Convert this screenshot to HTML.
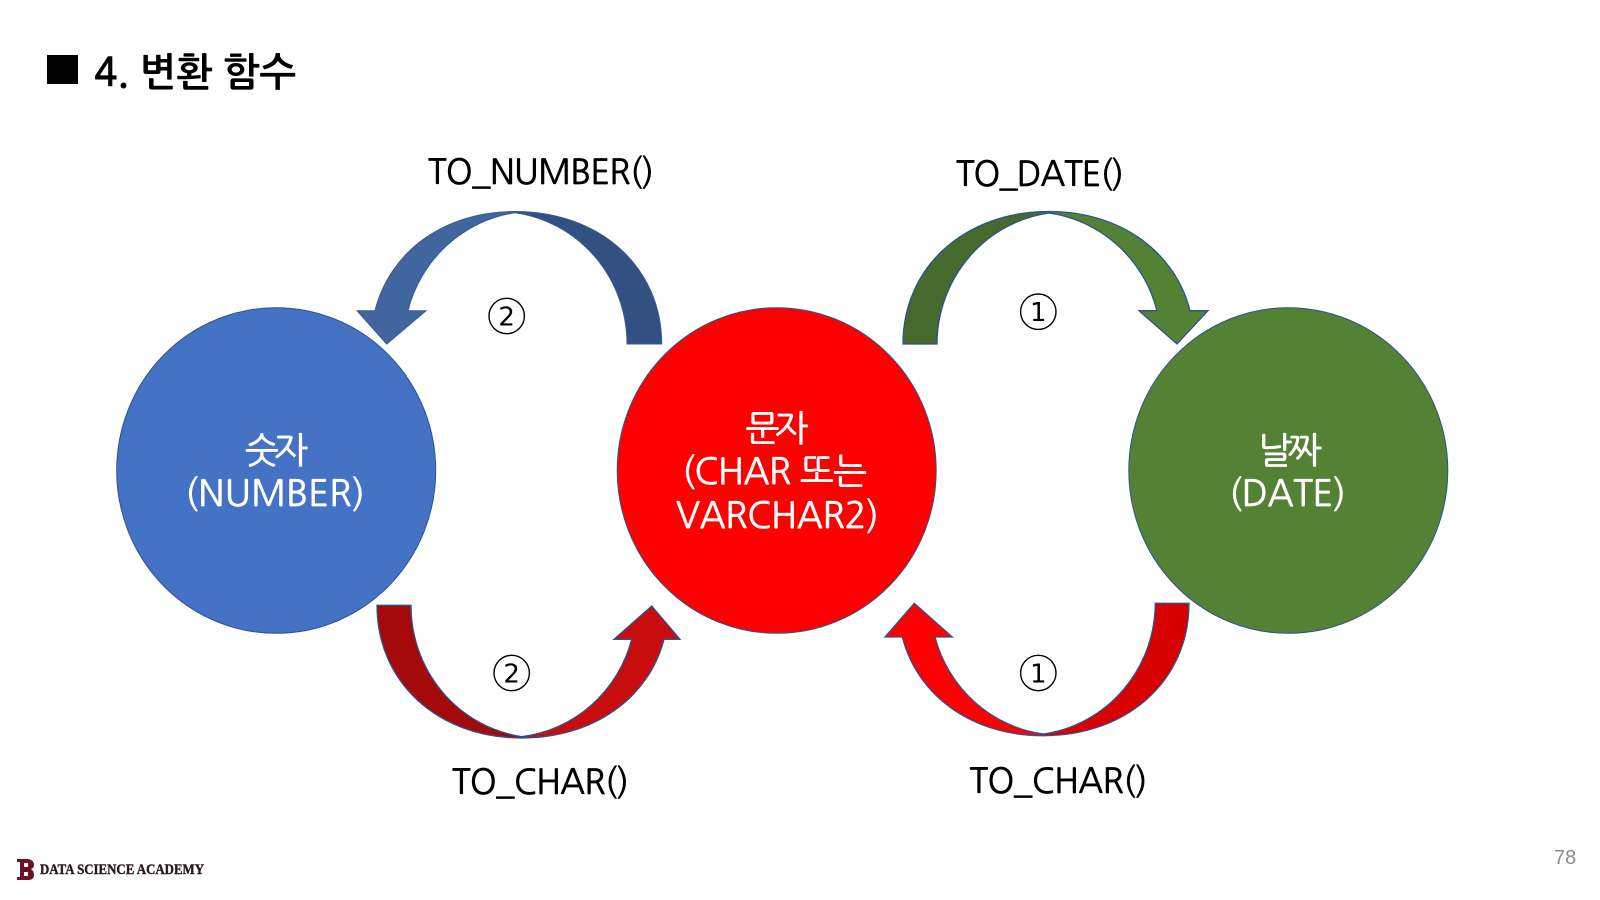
<!DOCTYPE html>
<html lang="ko">
<head>
<meta charset="utf-8">
<style>
html,body{margin:0;padding:0;background:#fff;width:1600px;height:900px;overflow:hidden}
svg{display:block}
.k{font-family:"NanumGothic","Liberation Sans","Noto Sans CJK KR",sans-serif}
.w{fill:#fff;stroke:#fff;stroke-width:.7;font-size:36px}
.l{fill:#000;stroke:#000;stroke-width:.7;font-size:34px}
.c{fill:#000;font-size:26px;text-anchor:middle;font-family:"DejaVu Sans",sans-serif}
.r{fill:none;stroke:#000;stroke-width:1.4}
</style>
</head>
<body>
<svg width="1600" height="900" viewBox="0 0 1600 900" xmlns="http://www.w3.org/2000/svg">
<rect width="1600" height="900" fill="#fff"/>

<!-- title -->
<rect x="47" y="55" width="31" height="29" fill="#000"/>
<text class="k" x="94" y="86" font-size="39" font-weight="700" fill="#000" textLength="202">4. 변환 함수</text>

<!-- circles -->
<ellipse cx="276.2" cy="470.5" rx="159.5" ry="162.8" fill="#4472c4" stroke="#2f528f" stroke-width="1"/>
<ellipse cx="776.7" cy="470.5" rx="159.5" ry="162.8" fill="#ff0000" stroke="#2f528f" stroke-width="1"/>
<ellipse cx="1288.3" cy="470.5" rx="159.5" ry="162.8" fill="#548235" stroke="#2f528f" stroke-width="1"/>

<!-- top-left arrow: TO_NUMBER -->
<path d="M627,344 A130,132.6 0 0 0 515,212.7 L515,211.5 C600.1,211.5 661.7,267.1 661.7,344 Z" fill="#325082" stroke="#3a5a8f" stroke-width="1"/>
<path d="M515,212.7 A130,132.6 0 0 0 408,310.7 L426,310.7 L386.7,344 L357,310.7 L375,310.7 C389.8,251.6 444,211.5 515,211.5 Z" fill="#41659f" stroke="#3a5a8f" stroke-width="1"/>

<!-- top-right arrow: TO_DATE -->
<path d="M937,344 A130,132.6 0 0 1 1049,213 L1049,211.5 C964.3,211.5 903,267.4 903,344 Z" fill="#46692e" stroke="#2f528f" stroke-width="1.3"/>
<path d="M1049,213 A130,132.6 0 0 1 1157,310.7 L1139,310.7 L1177,344 L1208,310.7 L1190,310.7 C1175,251.6 1120.5,211.5 1049,211.5 Z" fill="#548235" stroke="#2f528f" stroke-width="1.3"/>

<!-- bottom-left arrow: TO_CHAR -->
<path d="M377,605.3 L411,605.3 A130,132.6 0 0 0 521.7,736.7 L521.7,738 C437.8,738 377,682.3 377,605.3 Z" fill="#a50a0a" stroke="#2f528f" stroke-width="1.3"/>
<path d="M521.7,736.7 A130,132.6 0 0 0 631.7,639.3 L614,639.3 L651.7,606 L680,639.3 L664,639.3 C648.9,697.8 593.8,738 521.7,738 Z" fill="#c90d0d" stroke="#2f528f" stroke-width="1.3"/>

<!-- bottom-right arrow: TO_CHAR -->
<path d="M1189,603.3 L1155.3,603.3 A130,132.6 0 0 1 1043.3,734 L1043.3,735.7 C1127.8,735.7 1189,680.1 1189,603.3 Z" fill="#d90000" stroke="#2f528f" stroke-width="1.3"/>
<path d="M1043.3,734 A130,132.6 0 0 1 935,637 L952.3,637 L914.3,603.3 L885,637 L902.3,637 C917.3,695.5 971.8,735.7 1043.3,735.7 Z" fill="#ff0000" stroke="#2f528f" stroke-width="1.3"/>

<!-- circle labels -->
<text class="k w" x="245" y="463" textLength="63">숫자</text>
<text class="k w" x="185" y="506" textLength="180">(NUMBER)</text>
<text class="k w" x="745.5" y="441" textLength="63">문자</text>
<text class="k w" x="682" y="484" textLength="185">(CHAR 또는</text>
<text class="k w" x="676" y="528" textLength="203">VARCHAR2)</text>
<text class="k w" x="1258" y="463" textLength="64">날짜</text>
<text class="k w" x="1229" y="506" textLength="117">(DATE)</text>

<!-- function labels -->
<text class="k l" x="428" y="184" textLength="226">TO_NUMBER()</text>
<text class="k l" x="956" y="186" textLength="168">TO_DATE()</text>
<text class="k l" x="452" y="794" textLength="177">TO_CHAR()</text>
<text class="k l" x="969.5" y="793" textLength="178">TO_CHAR()</text>

<!-- circled numbers -->
<circle class="r" cx="506.7" cy="316" r="17.7"/>
<text class="c" x="506.7" y="325.5">2</text>
<circle class="r" cx="1038.3" cy="311.7" r="17.7"/>
<text class="c" x="1038.3" y="321.2">1</text>
<circle class="r" cx="511.7" cy="673" r="17.7"/>
<text class="c" x="511.7" y="682.5">2</text>
<circle class="r" cx="1038.3" cy="673" r="17.7"/>
<text class="c" x="1038.3" y="682.5">1</text>

<!-- footer logo -->
<path d="M17,859 H28 Q34,860 34,865 Q34,868 31,869 Q34,871 34,875 Q34,880 28,880 H17 V877 H20 V862 H17 Z" fill="#6b1226"/>
<rect x="24" y="863" width="4" height="4" fill="#fff"/>
<rect x="24" y="872" width="4" height="4" fill="#fff"/>
<text x="40" y="874" font-family="'Liberation Serif',serif" font-weight="700" font-size="14.5" fill="#2a1a1e" stroke="#2a1a1e" stroke-width=".4" textLength="164" lengthAdjust="spacingAndGlyphs">DATA SCIENCE ACADEMY</text>

<!-- page number -->
<text x="1554" y="864" font-family="'Liberation Sans',sans-serif" font-size="20" fill="#8c8c8c">78</text>
</svg>
</body>
</html>
